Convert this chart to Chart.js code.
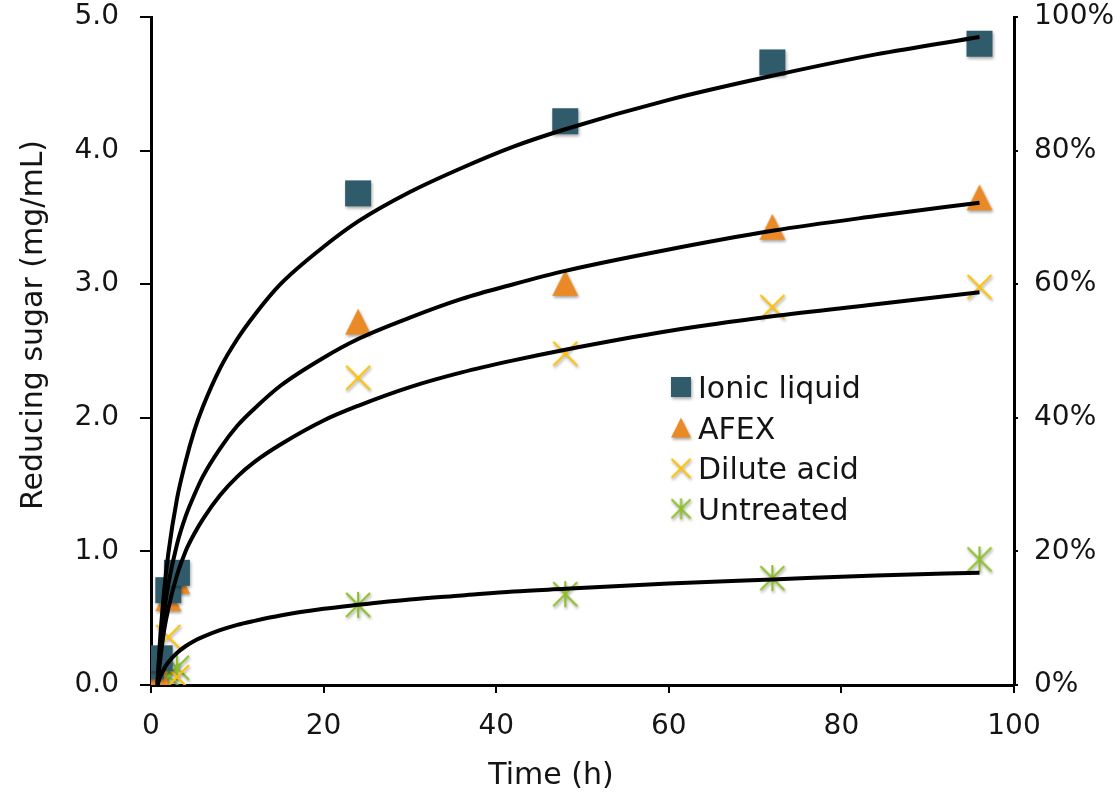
<!DOCTYPE html>
<html>
<head>
<meta charset="utf-8">
<script src="https://cdn.jsdelivr.net/npm/chart.js@4.4.1/dist/chart.umd.min.js"></script>
<style>
  body { margin: 0; background: #fff; }
  #wrap { width: 1114px; height: 795px; position: relative; }
</style>
</head>
<body>
<div id="wrap"><canvas id="chart"></canvas></div>
<script>
// measured sugar values (mg/mL) at each sampling time (h)
const times = [0, 1, 2, 3, 24, 48, 72, 96];
const ionicLiquid = [0.14, 0.20, 0.71, 0.84, 3.68, 4.22, 4.66, 4.80];
const afex = [0.03, 0.05, 0.65, 0.78, 2.72, 3.01, 3.43, 3.65];
const diluteAcid = [0.03, 0.05, 0.36, 0.06, 2.30, 2.48, 2.83, 2.98];
const untreated = [0.06, 0.08, 0.07, 0.13, 0.60, 0.68, 0.80, 0.94];

// logarithmic trend curves
const fitTimes = [0.75, 1, 1.5, 2, 3, 4, 5, 6, 8, 10, 12, 15, 20, 24, 30, 36, 42, 48, 60, 72, 84, 96];
const ionicFit = [0, 0.29, 0.69, 0.98, 1.39, 1.67, 1.90, 2.08, 2.37, 2.59, 2.77, 3.00, 3.28, 3.47, 3.69, 3.87, 4.03, 4.16, 4.38, 4.56, 4.72, 4.85];
const afexFit = [0.02, 0.23, 0.53, 0.75, 1.05, 1.26, 1.42, 1.56, 1.77, 1.94, 2.07, 2.24, 2.45, 2.59, 2.75, 2.89, 3.00, 3.10, 3.26, 3.40, 3.51, 3.61];
const diluteFit = [0, 0.15, 0.40, 0.57, 0.82, 1.00, 1.13, 1.24, 1.42, 1.56, 1.67, 1.80, 1.98, 2.09, 2.23, 2.34, 2.43, 2.51, 2.65, 2.76, 2.85, 2.94];
const untreatedFit = [0, 0.05, 0.12, 0.17, 0.24, 0.29, 0.33, 0.36, 0.41, 0.45, 0.48, 0.52, 0.57, 0.60, 0.64, 0.67, 0.70, 0.72, 0.76, 0.79, 0.82, 0.84];

const seriesNames = ['Ionic liquid', 'AFEX', 'Dilute acid', 'Untreated'];
const xTicks = [0, 20, 40, 60, 80, 100];
const yTicks = [0, 1, 2, 3, 4, 5];
const pctTicks = [0, 20, 40, 60, 80, 100];

const FONT = '"DejaVu Sans", sans-serif';
const INK = '#141414';

// marker images with a soft drop shadow, like the office-style original
function marker(kind, s, color) {
  const pad = 7;
  const c = document.createElement('canvas');
  c.width = c.height = s + pad * 2;
  const g = c.getContext('2d');
  const m = pad + s / 2;
  g.shadowColor = 'rgba(0,0,0,0.35)';
  g.shadowBlur = 3;
  g.shadowOffsetX = 1;
  g.shadowOffsetY = 2;
  g.fillStyle = color;
  g.strokeStyle = color;
  g.lineWidth = 2;
  if (kind === 'square') {
    g.fillRect(pad, pad, s, s);
  } else if (kind === 'triangle') {
    g.beginPath();
    g.moveTo(m, pad);
    g.lineTo(pad + s, pad + s);
    g.lineTo(pad, pad + s);
    g.closePath();
    g.fill();
  } else {
    g.beginPath();
    g.moveTo(pad, pad); g.lineTo(pad + s, pad + s);
    g.moveTo(pad + s, pad); g.lineTo(pad, pad + s);
    if (kind === 'star') { g.moveTo(m, pad - 1); g.lineTo(m, pad + s + 1); }
    g.stroke();
  }
  return c;
}

const colors = ['#2f5b6a', '#e98a26', '#ffc000', '#8cbf26'];
const plotMarks = [marker('square', 26, colors[0]), marker('triangle', 26, colors[1]),
                   marker('x', 24, colors[2]), marker('star', 24, colors[3])];
const legendMarks = [marker('square', 20, colors[0]), marker('triangle', 20, colors[1]),
                     marker('x', 19, colors[2]), marker('star', 19, colors[3])];

const pts = (xs, ys) => xs.map((x, i) => ({ x: x, y: ys[i] }));

function scatterSet(label, ys, i) {
  return {
    label: label,
    data: pts(times, ys),
    showLine: false,
    pointStyle: plotMarks[i],
    pointRadius: 13,
    order: 2
  };
}
function fitSet(ys) {
  return {
    label: 'fit',
    data: pts(fitTimes, ys),
    showLine: true,
    pointRadius: 0,
    borderColor: '#000',
    borderWidth: 4,
    cubicInterpolationMode: 'monotone',
    order: 1
  };
}

const setTicks = arr => scale => { scale.ticks = arr.map(v => ({ value: v })); };
const noPad = s => { s.paddingTop = 0; s.paddingBottom = 0; s.paddingLeft = 0; s.paddingRight = 0; };

const extras = {
  id: 'extras',
  afterDraw(chart) {
    const ctx = chart.ctx;
    ctx.save();
    ctx.fillStyle = INK;
    ctx.font = '30px ' + FONT;
    // legend inside plot
    ctx.textAlign = 'left';
    ctx.textBaseline = 'alphabetic';
    seriesNames.forEach((name, i) => {
      const y = 387 + i * 40.6;
      const img = legendMarks[i];
      ctx.drawImage(img, 681 - img.width / 2, y - img.height / 2);
      ctx.fillText(name, 698, y + 11);
    });
    // axis titles
    ctx.textAlign = 'center';
    ctx.fillText('Time (h)', 551, 784);
    ctx.translate(42, 325);
    ctx.rotate(-Math.PI / 2);
    ctx.fillText('Reducing sugar (mg/mL)', 0, 0);
    ctx.restore();
  }
};

const tickFont = { family: FONT, size: 28 };

new Chart(document.getElementById('chart'), {
  type: 'scatter',
  data: {
    datasets: [
      scatterSet(seriesNames[0], ionicLiquid, 0),
      scatterSet(seriesNames[1], afex, 1),
      scatterSet(seriesNames[2], diluteAcid, 2),
      scatterSet(seriesNames[3], untreated, 3),
      fitSet(ionicFit),
      fitSet(afexFit),
      fitSet(diluteFit),
      fitSet(untreatedFit)
    ]
  },
  options: {
    responsive: true,
    maintainAspectRatio: false,
    animation: false,
    layout: { padding: { top: 17, left: 0, right: 0, bottom: 0 } },
    plugins: {
      legend: { display: false },
      tooltip: { enabled: false }
    },
    scales: {
      x: {
        type: 'linear',
        min: 0,
        max: 100,
        afterBuildTicks: setTicks(xTicks),
        afterFit(s) { s.height = 110; noPad(s); },
        border: { color: '#000', width: 3 },
        grid: { drawOnChartArea: false, tickLength: 8, color: '#000', lineWidth: 2 },
        ticks: { color: INK, font: tickFont, padding: 17, maxRotation: 0 }
      },
      y: {
        position: 'left',
        min: 0,
        max: 5,
        afterBuildTicks: setTicks(yTicks),
        afterFit(s) { s.width = 151; noPad(s); },
        border: { color: '#000', width: 3 },
        grid: { drawOnChartArea: false, tickLength: 11, color: '#000', lineWidth: 2 },
        ticks: { color: INK, font: tickFont, padding: 21, callback: v => v.toFixed(1) }
      },
      y2: {
        position: 'right',
        min: 0,
        max: 100,
        afterBuildTicks: setTicks(pctTicks),
        afterFit(s) { s.width = 100; noPad(s); },
        border: { color: '#000', width: 3 },
        grid: { drawOnChartArea: false, tickLength: 4, color: '#000', lineWidth: 2 },
        ticks: { color: INK, font: tickFont, padding: 16, callback: v => v + '%' }
      }
    }
  },
  plugins: [extras]
});
</script>
</body>
</html>
